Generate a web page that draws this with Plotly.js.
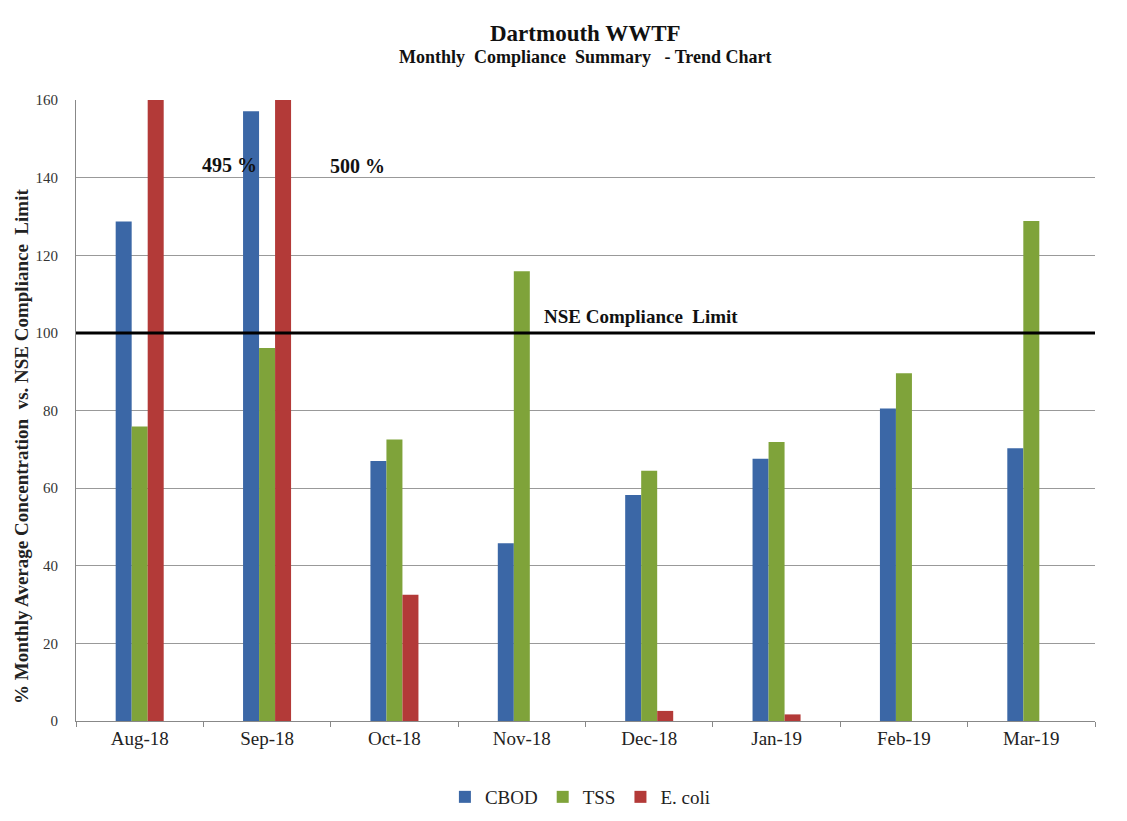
<!DOCTYPE html>
<html>
<head>
<meta charset="utf-8">
<script src="https://cdn.plot.ly/plotly-3.0.1.min.js"></script>
<style>html,body{margin:0;padding:0;background:#fff;}#chart{width:1127px;height:821px;}</style>
</head>
<body>
<div id="chart"></div>
<script>
const months = ["Aug-18","Sep-18","Oct-18","Nov-18","Dec-18","Jan-19","Feb-19","Mar-19"];
const cbod = [128.7, 157.1, 67.0, 45.8, 58.2, 67.6, 80.5, 70.3];
const tss = [75.9, 96.1, 72.5, 115.9, 64.5, 71.9, 89.6, 128.8];
const ecoli = [495, 500, 32.5, 0, 2.6, 1.7, 0, 0];
const limit = 100;
const axisMax = 160;

const serif = "Liberation Serif, Times New Roman, serif";

const traces = [
  {type:"bar", name:"CBOD", x:months, y:cbod, marker:{color:"#3b67a6"}},
  {type:"bar", name:"TSS", x:months, y:tss, marker:{color:"#7fa33a"}},
  {type:"bar", name:"E. coli", x:months, y:ecoli, marker:{color:"#b33a38"}}
];

const layout = {
  width:1127, height:821,
  margin:{l:76, r:32, t:100, b:100, autoexpand:false},
  paper_bgcolor:"#fff", plot_bgcolor:"#fff",
  barmode:"group", bargap:0.623, bargroupgap:0,
  font:{family:serif, color:"#222"},
  showlegend:true,
  legend:{orientation:"h", xref:"container", yref:"container", x:0.515, xanchor:"center",
          y:1 - 797/821, yanchor:"middle",
          font:{family:serif, size:19, color:"#222"}, itemwidth:30, traceorder:"normal"},
  xaxis:{type:"category", showgrid:false, showline:true, linecolor:"#888", linewidth:1,
         ticks:"outside", tickson:"boundaries", ticklen:5, tickcolor:"#888",
         automargin:false,
         tickfont:{family:serif, size:19, color:"#222"}},
  yaxis:{range:[0,axisMax], dtick:20, showgrid:true, gridcolor:"#999", gridwidth:1,
         showline:true, linecolor:"#888", linewidth:1, zeroline:false,
         ticks:"", ticklabelstandoff:14, automargin:false,
         tickfont:{family:serif, size:15, color:"#333"}},
  shapes:[{type:"line", xref:"paper", x0:0, x1:1, yref:"y", y0:limit, y1:limit,
           line:{color:"#000", width:3}}],
  annotations:[
    {xref:"paper", yref:"paper", x:0.5, y:1.107, yanchor:"middle", text:"<b>Dartmouth WWTF</b>", showarrow:false,
     font:{family:serif, size:23, color:"#111"}},
    {xref:"paper", yref:"paper", x:0.5, y:1.069, yanchor:"middle", text:"<b>Monthly  Compliance  Summary   - Trend Chart</b>", showarrow:false,
     font:{family:serif, size:18, color:"#111"}},
    {xref:"paper", yref:"paper", x:(21-76)/1019, y:(721-447)/621, xanchor:"center", yanchor:"middle", textangle:-90,
     text:"<b>% Monthly Average Concentration  vs. NSE Compliance  Limit</b>", showarrow:false,
     font:{family:serif, size:19, color:"#222"}},
    {xref:"paper", yref:"y", x:(200-76)/1019, y:143.3, yanchor:"middle", text:"<b>" + ecoli[0] + " %</b>", showarrow:false,
     font:{family:serif, size:20, color:"#111"}},
    {xref:"paper", yref:"y", x:(328-76)/1019, y:143.1, yanchor:"middle", text:"<b>" + ecoli[1] + " %</b>", showarrow:false,
     font:{family:serif, size:20, color:"#111"}},
    {xref:"paper", yref:"y", x:(641-76)/1019, y:104.2, yanchor:"middle", text:"<b>NSE Compliance  Limit</b>", showarrow:false,
     font:{family:serif, size:19, color:"#111"}}
  ]
};

Plotly.newPlot("chart", traces, layout, {displayModeBar:false, staticPlot:true});
</script>
</body>
</html>
